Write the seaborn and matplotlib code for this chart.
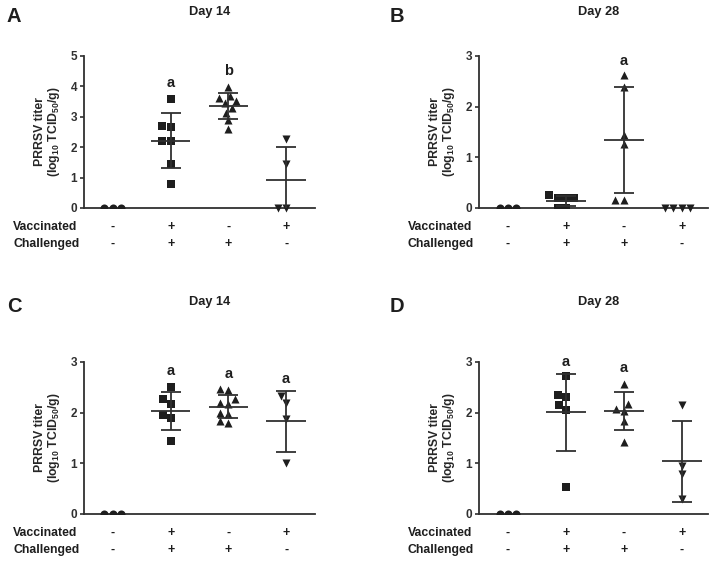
import pandas as pd
import seaborn as sns
import matplotlib.pyplot as plt

sns.set_style('ticks')
plt.rcParams['font.family'] = ['Liberation Sans', 'DejaVu Sans']
plt.rcParams['font.weight'] = 'bold'
plt.rcParams['mathtext.fontset'] = 'custom'
plt.rcParams['mathtext.rm'] = 'Liberation Sans:bold'
plt.rcParams['mathtext.bf'] = 'Liberation Sans:bold'
plt.rcParams['mathtext.default'] = 'rm'

# group design (same for all panels)
vaccinated = ['-', '+', '-', '+']
challenged = ['-', '+', '+', '-']
groups = ['mock', 'vac_chal', 'chal', 'vac']
markers = ['o', 's', '^', 'v']

# Panel A - Day 14
a_titers = [[0, 0, 0],
            [3.60, 2.71, 2.65, 2.21, 2.21, 1.44, 0.79],
            [3.97, 3.69, 3.63, 3.53, 3.46, 3.30, 3.13, 2.88, 2.60],
            [2.27, 1.45, 0, 0]]
a_mean = [0, 2.22, 3.36, 0.91]
a_sd = [0, 0.91, 0.42, 1.11]
a_sig = ['', 'a', 'b', '']
a_sig_y = [0, 4.12, 4.5, 0]

# Panel B - Day 28
b_titers = [[0, 0, 0],
            [0.25, 0.20, 0.20, 0.20, 0, 0],
            [2.62, 2.39, 1.44, 1.26, 0.16, 0.16],
            [0, 0, 0, 0]]
b_mean = [0, 0.14, 1.34, 0]
b_sd = [0, 0.10, 1.05, 0]
b_sig = ['', '', 'a', '']
b_sig_y = [0, 0, 2.91, 0]

# Panel C - Day 14
c_titers = [[0, 0, 0],
            [2.51, 2.26, 2.18, 1.96, 1.89, 1.44],
            [2.46, 2.44, 2.26, 2.19, 2.17, 2.00, 1.98, 1.83, 1.80],
            [2.32, 2.19, 1.87, 1.00]]
c_mean = [0, 2.03, 2.12, 1.83]
c_sd = [0, 0.37, 0.23, 0.60]
c_sig = ['', 'a', 'a', 'a']
c_sig_y = [0, 2.82, 2.76, 2.66]

# Panel D - Day 28
d_titers = [[0, 0, 0],
            [2.73, 2.34, 2.30, 2.16, 2.06, 0.53],
            [2.57, 2.17, 2.08, 2.03, 1.84, 1.43],
            [2.16, 0.95, 0.79, 0.29]]
d_mean = [0, 2.01, 2.03, 1.04]
d_sd = [0, 0.76, 0.38, 0.80]
d_sig = ['', 'a', 'a', '']
d_sig_y = [0, 3.0, 2.88, 0]

W, H = 721, 565
fig = plt.figure(figsize=(W / 100, H / 100), dpi=100)


def fx(x):
    return x / W


def fy(y):
    return 1 - y / H


panels = [
    ('A', 'Day 14', a_titers, a_mean, a_sd, a_sig, a_sig_y, 5, (84, 56, 315, 208), 3.5),
    ('B', 'Day 28', b_titers, b_mean, b_sd, b_sig, b_sig_y, 3, (479, 56, 708, 208), 3.45),
    ('C', 'Day 14', c_titers, c_mean, c_sd, c_sig, c_sig_y, 3, (84, 362, 315, 514), 3.5),
    ('D', 'Day 28', d_titers, d_mean, d_sd, d_sig, d_sig_y, 3, (479, 362, 708, 514), 3.45),
]

ink = '#1e1e1e'
line = '#303030'

for letter, title, titers, means, sds, sig, sig_y, ymax, box, xmax in panels:
    x0, y0, x1, y1 = box
    ax = fig.add_axes([fx(x0), fy(y1), fx(x1 - x0), (y1 - y0) / H])

    rows = []
    for g, vals in zip(groups, titers):
        for v in vals:
            rows.append({'group': g, 'titer': v})
    df = pd.DataFrame(rows)

    for g, m in zip(groups, markers):
        sns.swarmplot(data=df[df['group'] == g], x='group', y='titer', order=groups,
                      marker=m, color=ink, size=5.8, linewidth=0, ax=ax)
        ax.collections[-1].set_clip_on(False)

    for i in range(len(groups)):
        if sds[i] > 0:
            ax.errorbar(i, means[i], yerr=sds[i], fmt='none', ecolor=line,
                        elinewidth=1.3, capsize=7.5, capthick=1.3, zorder=3)
            ax.hlines(means[i], i - 0.34, i + 0.34, color=line, lw=1.3, zorder=3)
        if sig[i]:
            ax.text(i, sig_y[i], sig[i], ha='center', va='center',
                    fontsize=10.5, fontweight='bold', color=ink)

    ax.set_xlim(-0.5, xmax)
    ax.set_ylim(0, ymax)
    ax.set_yticks(range(ymax + 1))
    ax.set_xticks([])
    ax.set_xlabel('')
    ax.set_ylabel('PRRSV titer\n(log$_{10}$ TCID$_{50}$/g)', fontsize=8.8,
                  fontweight='bold', labelpad=6, linespacing=1.0)
    ax.tick_params(axis='y', length=3, width=1.2, pad=2, labelsize=8.5, colors=line)
    sns.despine(ax=ax)
    for s in ('left', 'bottom'):
        ax.spines[s].set_linewidth(1.3)
        ax.spines[s].set_color(line)

    # +/- design rows under the axis
    trans = ax.get_xaxis_transform()
    for i in range(len(groups)):
        ax.text(i, -19 / (y1 - y0), vaccinated[i], transform=trans, ha='center',
                va='center', fontsize=9, fontweight='bold', color=ink)
        ax.text(i, -36 / (y1 - y0), challenged[i], transform=trans, ha='center',
                va='center', fontsize=9, fontweight='bold', color=ink)
    lab_x = 13 if x0 < 300 else 408
    fig.text(fx(lab_x), fy(y1 + 19), 'Vaccinated', ha='left', va='center',
             fontsize=8.8, fontweight='bold', color=ink)
    fig.text(fx(lab_x), fy(y1 + 36), 'Challenged', ha='left', va='center',
             fontsize=8.8, fontweight='bold', color=ink)

    top = 0 if y0 < 300 else 290
    fig.text(fx(7 if x0 < 300 else 390), fy(top + 16), letter, ha='left', va='center',
             fontsize=14.5, fontweight='bold', color=ink)
    fig.text(fx(210 if x0 < 300 else 599), fy(top + 12), title, ha='center', va='center',
             fontsize=9.2, fontweight='bold', color=ink)

fig.savefig('out.png', dpi=100, facecolor='white')
